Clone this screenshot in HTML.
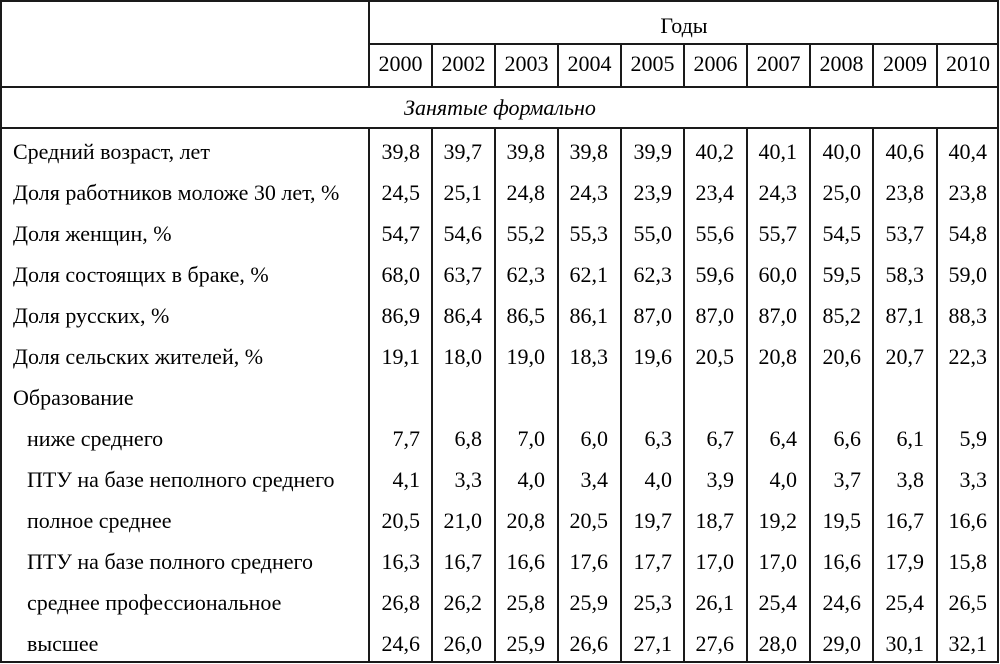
<!DOCTYPE html>
<html>
<head>
<meta charset="utf-8">
<style>
  html, body { margin:0; padding:0; background:#fff; }
  svg { display:block; }
  svg text { font-family: "Liberation Serif", "Times New Roman", Times, serif; font-size:22px; fill:#000; }
  .it { font-style: italic; }
</style>
</head>
<body>
<svg width="1000" height="664" viewBox="0 0 1000 664" xmlns="http://www.w3.org/2000/svg" font-family="Liberation Serif, Times New Roman, serif" font-size="22">
  <rect x="0" y="0" width="1000" height="664" fill="#fff"/>
  <g stroke="#1a1a1a" stroke-width="2" fill="none">
    <rect x="1" y="1" width="997" height="661"/>
    <line x1="369" y1="44" x2="998" y2="44"/>
    <line x1="1" y1="87" x2="998" y2="87"/>
    <line x1="1" y1="128" x2="998" y2="128"/>
    <line x1="369" y1="1" x2="369" y2="87"/>
    <line x1="369" y1="128" x2="369" y2="662"/>
    <g>
      <line x1="432" y1="44" x2="432" y2="87"/><line x1="432" y1="128" x2="432" y2="662"/>
      <line x1="495" y1="44" x2="495" y2="87"/><line x1="495" y1="128" x2="495" y2="662"/>
      <line x1="558" y1="44" x2="558" y2="87"/><line x1="558" y1="128" x2="558" y2="662"/>
      <line x1="621" y1="44" x2="621" y2="87"/><line x1="621" y1="128" x2="621" y2="662"/>
      <line x1="684" y1="44" x2="684" y2="87"/><line x1="684" y1="128" x2="684" y2="662"/>
      <line x1="747" y1="44" x2="747" y2="87"/><line x1="747" y1="128" x2="747" y2="662"/>
      <line x1="810" y1="44" x2="810" y2="87"/><line x1="810" y1="128" x2="810" y2="662"/>
      <line x1="873" y1="44" x2="873" y2="87"/><line x1="873" y1="128" x2="873" y2="662"/>
      <line x1="937" y1="44" x2="937" y2="87"/><line x1="937" y1="128" x2="937" y2="662"/>
    </g>
  </g>

  <text x="684" y="33" text-anchor="middle">Годы</text>
  <g text-anchor="middle">
    <text x="400.5" y="71">2000</text>
    <text x="463.5" y="71">2002</text>
    <text x="526.5" y="71">2003</text>
    <text x="589.5" y="71">2004</text>
    <text x="652.5" y="71">2005</text>
    <text x="715.5" y="71">2006</text>
    <text x="778.5" y="71">2007</text>
    <text x="841.5" y="71">2008</text>
    <text x="905" y="71">2009</text>
    <text x="968" y="71">2010</text>
  </g>
  <text x="500" y="115" text-anchor="middle" class="it" font-style="italic">Занятые формально</text>

  <text x="13" y="159">Средний возраст, лет</text>
  <text x="13" y="200">Доля работников моложе 30 лет, %</text>
  <text x="13" y="241">Доля женщин, %</text>
  <text x="13" y="282">Доля состоящих в браке, %</text>
  <text x="13" y="323">Доля русских, %</text>
  <text x="13" y="364">Доля сельских жителей, %</text>
  <text x="13" y="405">Образование</text>
  <text x="27" y="446">ниже среднего</text>
  <text x="27" y="487">ПТУ на базе неполного среднего</text>
  <text x="27" y="528">полное среднее</text>
  <text x="27" y="569">ПТУ на базе полного среднего</text>
  <text x="27" y="610">среднее профессиональное</text>
  <text x="27" y="651">высшее</text>

  <g text-anchor="end">
    <text x="420" y="159">39,8</text><text x="482" y="159">39,7</text><text x="545" y="159">39,8</text><text x="608" y="159">39,8</text><text x="672" y="159">39,9</text><text x="734" y="159">40,2</text><text x="797" y="159">40,1</text><text x="861" y="159">40,0</text><text x="924" y="159">40,6</text><text x="987" y="159">40,4</text>
    <text x="420" y="200">24,5</text><text x="482" y="200">25,1</text><text x="545" y="200">24,8</text><text x="608" y="200">24,3</text><text x="672" y="200">23,9</text><text x="734" y="200">23,4</text><text x="797" y="200">24,3</text><text x="861" y="200">25,0</text><text x="924" y="200">23,8</text><text x="987" y="200">23,8</text>
    <text x="420" y="241">54,7</text><text x="482" y="241">54,6</text><text x="545" y="241">55,2</text><text x="608" y="241">55,3</text><text x="672" y="241">55,0</text><text x="734" y="241">55,6</text><text x="797" y="241">55,7</text><text x="861" y="241">54,5</text><text x="924" y="241">53,7</text><text x="987" y="241">54,8</text>
    <text x="420" y="282">68,0</text><text x="482" y="282">63,7</text><text x="545" y="282">62,3</text><text x="608" y="282">62,1</text><text x="672" y="282">62,3</text><text x="734" y="282">59,6</text><text x="797" y="282">60,0</text><text x="861" y="282">59,5</text><text x="924" y="282">58,3</text><text x="987" y="282">59,0</text>
    <text x="420" y="323">86,9</text><text x="482" y="323">86,4</text><text x="545" y="323">86,5</text><text x="608" y="323">86,1</text><text x="672" y="323">87,0</text><text x="734" y="323">87,0</text><text x="797" y="323">87,0</text><text x="861" y="323">85,2</text><text x="924" y="323">87,1</text><text x="987" y="323">88,3</text>
    <text x="420" y="364">19,1</text><text x="482" y="364">18,0</text><text x="545" y="364">19,0</text><text x="608" y="364">18,3</text><text x="672" y="364">19,6</text><text x="734" y="364">20,5</text><text x="797" y="364">20,8</text><text x="861" y="364">20,6</text><text x="924" y="364">20,7</text><text x="987" y="364">22,3</text>
    <text x="420" y="446">7,7</text><text x="482" y="446">6,8</text><text x="545" y="446">7,0</text><text x="608" y="446">6,0</text><text x="672" y="446">6,3</text><text x="734" y="446">6,7</text><text x="797" y="446">6,4</text><text x="861" y="446">6,6</text><text x="924" y="446">6,1</text><text x="987" y="446">5,9</text>
    <text x="420" y="487">4,1</text><text x="482" y="487">3,3</text><text x="545" y="487">4,0</text><text x="608" y="487">3,4</text><text x="672" y="487">4,0</text><text x="734" y="487">3,9</text><text x="797" y="487">4,0</text><text x="861" y="487">3,7</text><text x="924" y="487">3,8</text><text x="987" y="487">3,3</text>
    <text x="420" y="528">20,5</text><text x="482" y="528">21,0</text><text x="545" y="528">20,8</text><text x="608" y="528">20,5</text><text x="672" y="528">19,7</text><text x="734" y="528">18,7</text><text x="797" y="528">19,2</text><text x="861" y="528">19,5</text><text x="924" y="528">16,7</text><text x="987" y="528">16,6</text>
    <text x="420" y="569">16,3</text><text x="482" y="569">16,7</text><text x="545" y="569">16,6</text><text x="608" y="569">17,6</text><text x="672" y="569">17,7</text><text x="734" y="569">17,0</text><text x="797" y="569">17,0</text><text x="861" y="569">16,6</text><text x="924" y="569">17,9</text><text x="987" y="569">15,8</text>
    <text x="420" y="610">26,8</text><text x="482" y="610">26,2</text><text x="545" y="610">25,8</text><text x="608" y="610">25,9</text><text x="672" y="610">25,3</text><text x="734" y="610">26,1</text><text x="797" y="610">25,4</text><text x="861" y="610">24,6</text><text x="924" y="610">25,4</text><text x="987" y="610">26,5</text>
    <text x="420" y="651">24,6</text><text x="482" y="651">26,0</text><text x="545" y="651">25,9</text><text x="608" y="651">26,6</text><text x="672" y="651">27,1</text><text x="734" y="651">27,6</text><text x="797" y="651">28,0</text><text x="861" y="651">29,0</text><text x="924" y="651">30,1</text><text x="987" y="651">32,1</text>
  </g>
</svg>
</body>
</html>
